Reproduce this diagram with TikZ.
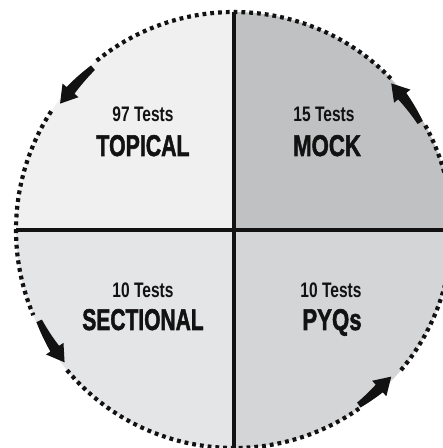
\documentclass[tikz,border=0pt]{standalone}
\usepackage{fontspec}
\setmainfont{Liberation Sans}
\newfontfamily\smallfont{Liberation Sans Bold}
\newfontfamily\bigfont{Liberation Sans Bold}[FakeBold=2]
\usetikzlibrary{arrows.meta}
\definecolor{qTL}{HTML}{F0F0F0}
\definecolor{qTR}{HTML}{C0C1C3}
\definecolor{qBL}{HTML}{E4E5E7}
\definecolor{qBR}{HTML}{D4D5D7}
\definecolor{ink}{HTML}{121212}
\def\rr{215}
\def\wa{3}
\def\wb{5.2}
\def\hh{10.5}
\newcommand\swoosh[3]{%
  \fill[ink, shift={(234,218)}]
    plot[domain=#1:#2, samples=24] ({(\rr+\wa+(\wb-\wa)*(\x-#1)/(#2-#1))*cos(\x)},{(\rr+\wa+(\wb-\wa)*(\x-#1)/(#2-#1))*sin(\x)})
    -- (#2:\rr+\hh) -- (#3:\rr) -- (#2:\rr-\hh)
    -- plot[domain=#2:#1, samples=24] ({(\rr-\wa-(\wb-\wa)*(\x-#1)/(#2-#1))*cos(\x)},{(\rr-\wa-(\wb-\wa)*(\x-#1)/(#2-#1))*sin(\x)})
    -- cycle;}
\tikzset{
  divider/.style={draw=ink, line width=3.2pt},
  dotring/.style={draw=ink, line width=4.2pt, dash pattern=on 3.8pt off 4pt},
  small/.style={anchor=base, text=ink, inner sep=0pt, font=\smallfont\fontsize{21}{21}\selectfont},
  big/.style={anchor=base, text=ink, inner sep=0pt, font=\bigfont\fontsize{30}{30}\selectfont},
}
\begin{document}
\begin{tikzpicture}[x=1pt,y=1pt]
\useasboundingbox (0,0) rectangle (443,448);
\coordinate (C) at (234,218);
% quadrants
\fill[qTL] (C) -- ++(180:218) arc[start angle=180, end angle=90, radius=218] -- cycle;
\fill[qTR] (C) -- ++(90:218) arc[start angle=90, end angle=0, radius=218] -- cycle;
\fill[qBL] (C) -- ++(180:218) arc[start angle=180, end angle=270, radius=218] -- cycle;
\fill[qBR] (C) -- ++(270:218) arc[start angle=270, end angle=360, radius=218] -- cycle;
% dividers
\path (C) ++(90:218) coordinate (Top) (C) ++(270:218) coordinate (Bot)
      (C) ++(180:218) coordinate (Lft) (C) ++(0:218) coordinate (Rgt);
\draw[divider] (Top) -- (Bot);
\draw[divider] (Lft) -- (Rgt);
% dotted ring
\draw[dotring] (C) ++(44:218) arc[start angle=44, end angle=130, radius=218];
\draw[dotring] (C) ++(147:218) arc[start angle=147, end angle=203, radius=218];
\draw[dotring] (C) ++(220:218) arc[start angle=220, end angle=305, radius=218];
\draw[dotring] (C) ++(320:218) arc[start angle=320, end angle=389.5, radius=218];
% arrows
\swoosh{131}{139.5}{144}
\swoosh{30}{38.5}{43}
\swoosh{205}{213.5}{218}
\swoosh{305.5}{312.5}{317}
% labels
\node[small] (n1) at (143,326) {\scalebox{0.74}[1]{97 Tests}};
\node[big] (t1) at (143,292) {\scalebox{0.71}[1]{TOPICAL}};
\node[small] (n2) at (324,326) {\scalebox{0.74}[1]{15 Tests}};
\node[big] (t2) at (327,292) {\scalebox{0.74}[1]{MOCK}};
\node[small] (n3) at (143,150) {\scalebox{0.74}[1]{10 Tests}};
\node[big] (t3) at (143,118) {\scalebox{0.7}[1]{SECTIONAL}};
\node[small] (n4) at (331,150) {\scalebox{0.74}[1]{10 Tests}};
\node[big] (t4) at (332,118) {\scalebox{0.74}[1]{PYQs}};
\end{tikzpicture}
\end{document}
